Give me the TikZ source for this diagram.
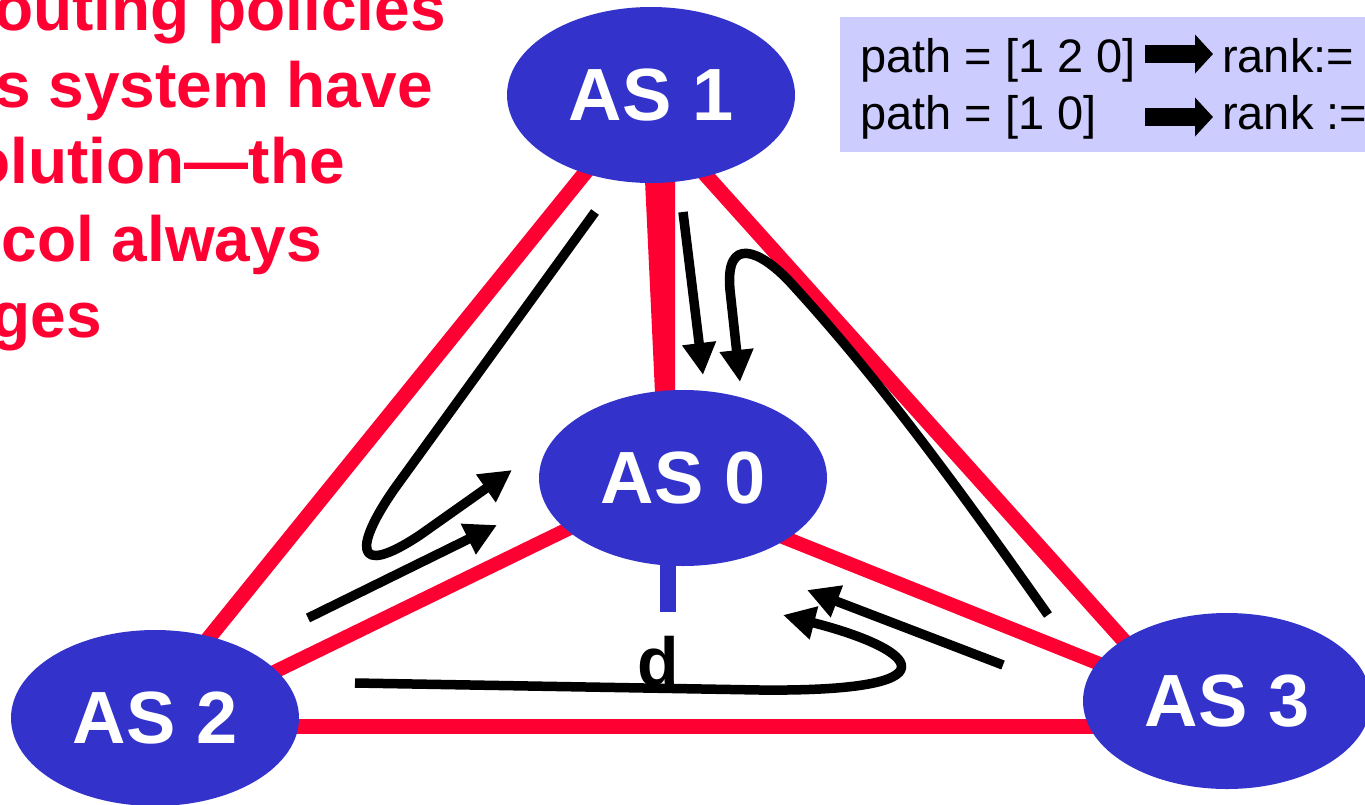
\documentclass[tikz,border=0pt]{standalone}
\usepackage{fontspec}
\setmainfont{Liberation Sans}
\usetikzlibrary{shapes.geometric,arrows.meta,backgrounds,calc}
\definecolor{asblue}{HTML}{3333CC}
\definecolor{linkred}{HTML}{FF0033}
\definecolor{boxfill}{HTML}{CCCCFF}
\begin{document}
\begin{tikzpicture}[x=1pt,y=-1pt,
  asnode/.style={ellipse, fill=asblue, minimum width=288pt, minimum height=176pt, inner sep=0pt, text=white, font=\bfseries\fontsize{74}{80}\selectfont},
  link/.style={draw=linkred, line width=15pt},
  flow/.style={draw=black, line width=9.5pt, line join=round, -{Triangle[length=32pt,width=32pt]}},
  redtxt/.style={text=linkred, font=\bfseries\fontsize{64}{70}\selectfont, inner sep=0pt, anchor=base east},
  boxtxt/.style={font=\fontsize{47}{50}\selectfont, inner sep=0pt, anchor=base west},
  bigarrow/.style={line width=18pt, -{Triangle[length=18pt,width=38pt]}},
  stub/.style={draw=asblue, line width=16pt}
]
\useasboundingbox (0,0) rectangle (1365,804);

% AS nodes
\node[asnode] (as1) at (651,95) {AS 1};
\node[asnode] (as0) at (683,478) {AS 0};
\node[asnode] (as2) at (155,718) {AS 2};
\node[asnode] (as3) at (1227,701) {AS 3};

% links
\begin{scope}[on background layer]
\draw[link] ($(as1)+(-3,0)$) -- ($(as2)+(-11,0)$);
\draw[link] ($(as1)+(-17,0)$) -- ($(as3)+(-49,0)$);
\draw[link, line width=14pt] ($(as0)+(0,-5)$) -- ($(as2)+(0,12)$);
\draw[link, line width=14pt] ($(as0)+(0,19)$) -- ($(as3)+(0,14)$);
\draw[link] ($(as2)+(0,8)$) -- ($(as3)+(0,25)$);
\fill[linkred] ($(as1)+(-10,0)$) -- ($(as1)+(24,0)$) -- ($(as0)+(-8,0)$) -- ($(as0)+(-24,0)$) -- cycle;
\end{scope}

% destination stub and label
\coordinate (stubend) at (668,612);
\draw[stub] (as0.south -| stubend) ++(0,-4) -- (stubend);
\node[font=\bfseries\fontsize{68}{70}\selectfont, anchor=base, inner sep=0pt] (dlabel) at (658,685) {d};

% ranking box
\fill[boxfill] (840,17) rectangle (1370,152);
\node[boxtxt] (p1) at (860,72) {path = [1 2 0]};
\node[boxtxt] (p2) at (860,129) {path = [1 0]};
\node[boxtxt] (r1) at (1222,72) {rank:=};
\node[boxtxt] (r2) at (1222,129) {rank :=};
\coordinate (b1s) at (1145,54); \coordinate (b1e) at (1213,54);
\coordinate (b2s) at (1145,117); \coordinate (b2e) at (1213,117);
\draw[bigarrow] (b1s) -- (b1e);
\draw[bigarrow] (b2s) -- (b2e);

% red statement (cut off at the left edge)
\node[redtxt] (t1) at (446,30) {outing policies};
\node[redtxt] (t2) at (433,107) {s system have};
\node[redtxt] (t3) at (345,183) {olution—the};
\node[redtxt] (t4) at (322,261) {col always};
\node[redtxt] (t5) at (102,337) {ges};

% black flow arrows
\coordinate (f1s) at (595,212); \coordinate (f1e) at (512,470);
\draw[flow] (f1s) -- (395,488) .. controls (355,545) and (352,580) .. (420,535) -- (f1e);
\coordinate (f2s) at (308,618); \coordinate (f2e) at (497,525);
\draw[flow] (f2s) -- (f2e);
\coordinate (f3s) at (683,212); \coordinate (f3e) at (703,375);
\draw[flow] (f3s) -- (f3e);
\coordinate (f4s) at (1048,615); \coordinate (f4e) at (740,382);
\draw[flow] (f4s) .. controls (960,490) and (880,380) .. (790,282) .. controls (760,250) and (725,235) .. (730,290) -- (f4e);
\coordinate (f5s) at (355,683); \coordinate (f5e) at (783,615);
\draw[flow] (f5s) -- (760,690) .. controls (960,692) and (920,650) .. (f5e);
\coordinate (f6s) at (1003,665); \coordinate (f6e) at (807,590);
\draw[flow] (f6s) -- (f6e);
\end{tikzpicture}
\end{document}
